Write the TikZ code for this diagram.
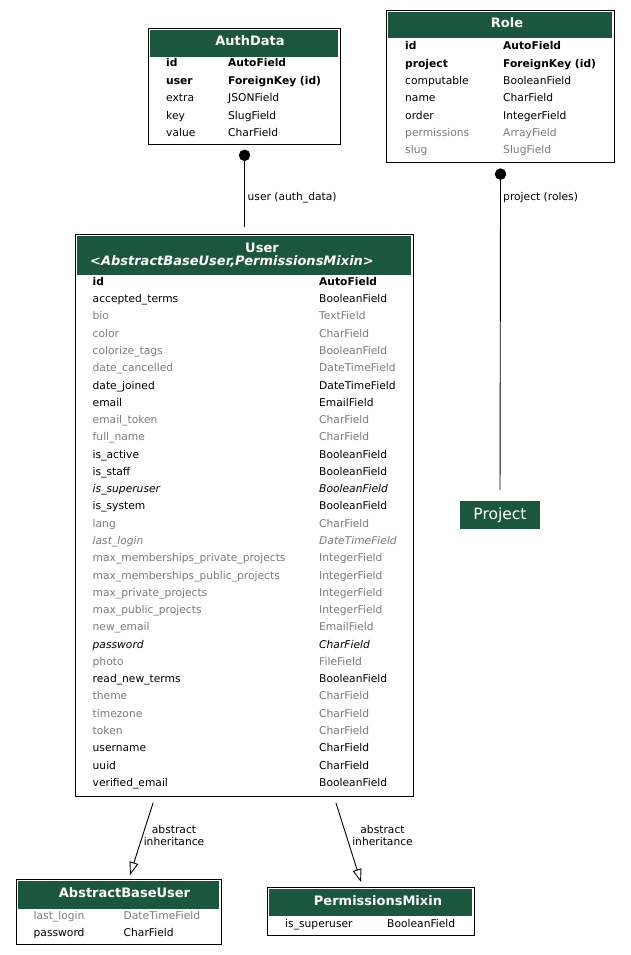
\documentclass[tikz,border=0pt]{standalone}
\usepackage{fontspec}
\setmainfont{DejaVu Sans}
\usetikzlibrary{arrows.meta}

\definecolor{hdrgreen}{HTML}{1B563F}
\definecolor{fieldgray}{HTML}{7B7B7B}
\newcommand{\rowfont}{\fontsize{10.7}{12}\selectfont}
\newcommand{\hdrfont}{\fontsize{13}{14}\selectfont\bfseries}

\tikzset{
	tbl/.style={draw=black, line width=1.1pt, anchor=north west, inner sep=0pt},
	hdr/.style={fill=hdrgreen, anchor=north west, inner sep=0pt},
	title/.style={text=white, font=\hdrfont, inner sep=0pt, text height=9.5pt, text depth=0pt},
	fld/.style={anchor=west, inner sep=0pt, text height=7.8pt, text depth=0pt, font=\rowfont},
	inh/.style={fld, text=fieldgray},
	elabel/.style={font=\rowfont, align=center, inner sep=0pt},
	fk/.style={line width=.9pt, {Circle[length=11.4pt]}-},
	isa/.style={line width=.9pt, -{Triangle[open, length=13pt, width=9pt]}}
}

\begin{document}
\begin{tikzpicture}[x=1pt, y=-1pt]
		\path[use as bounding box, fill=white] (0, 0) rectangle (630, 955);

		\node[tbl, minimum width=192pt, minimum height=116pt] (authdata) at(148, 28){};
			\node[hdr, minimum width=188pt, minimum height=27pt] (authdata-hd) at(150, 30){};
			\node[title] (authdata-title) at(250, 41){AuthData};
			\node[fld, font=\rowfont\bfseries] (authdata-n1) at(166, 63){id};
			\node[fld, font=\rowfont\bfseries] (authdata-t1) at(228, 63){AutoField};
			\node[fld, font=\rowfont\bfseries] (authdata-n2) at(166, 80.4){user};
			\node[fld, font=\rowfont\bfseries] (authdata-t2) at(228, 80.4){ForeignKey (id)};
			\node[fld] (authdata-n3) at(166, 97.8){extra};
			\node[fld] (authdata-t3) at(228, 97.8){JSONField};
			\node[fld] (authdata-n4) at(166, 115.2){key};
			\node[fld] (authdata-t4) at(228, 115.2){SlugField};
			\node[fld] (authdata-n5) at(166, 132.6){value};
			\node[fld] (authdata-t5) at(228, 132.6){CharField};

		\node[tbl, minimum width=228pt, minimum height=152pt] (role) at(386, 10){};
			\node[hdr, minimum width=224pt, minimum height=26pt] (role-hd) at(388, 12){};
			\node[title] (role-title) at(507, 23){Role};
			\node[fld, font=\rowfont\bfseries] (role-n1) at(405, 46){id};
			\node[fld, font=\rowfont\bfseries] (role-t1) at(503, 46){AutoField};
			\node[fld, font=\rowfont\bfseries] (role-n2) at(405, 63.3){project};
			\node[fld, font=\rowfont\bfseries] (role-t2) at(503, 63.3){ForeignKey (id)};
			\node[fld] (role-n3) at(405, 80.6){computable};
			\node[fld] (role-t3) at(503, 80.6){BooleanField};
			\node[fld] (role-n4) at(405, 97.9){name};
			\node[fld] (role-t4) at(503, 97.9){CharField};
			\node[fld] (role-n5) at(405, 115.2){order};
			\node[fld] (role-t5) at(503, 115.2){IntegerField};
			\node[inh] (role-n6) at(405, 132.5){permissions};
			\node[inh] (role-t6) at(503, 132.5){ArrayField};
			\node[inh] (role-n7) at(405, 149.8){slug};
			\node[inh] (role-t7) at(503, 149.8){SlugField};

		\node[tbl, minimum width=338pt, minimum height=562pt] (user) at(75, 234){};
			\node[hdr, minimum width=334pt, minimum height=39pt] (user-hd) at(77, 236){};
			\node[title] (user-title) at(262, 247.5){User};
			\node[title, font=\hdrfont\itshape] (user-bases) at(232, 261){<AbstractBaseUser,PermissionsMixin>};
			\node[fld, font=\rowfont\bfseries] (user-n1) at(92.5, 281.5){id};
			\node[fld, font=\rowfont\bfseries] (user-t1) at(319, 281.5){AutoField};
			\node[fld] (user-n2) at(92.5, 298.8){accepted\_terms};
			\node[fld] (user-t2) at(319, 298.8){BooleanField};
			\node[inh] (user-n3) at(92.5, 316.0){bio};
			\node[inh] (user-t3) at(319, 316.0){TextField};
			\node[inh] (user-n4) at(92.5, 333.3){color};
			\node[inh] (user-t4) at(319, 333.3){CharField};
			\node[inh] (user-n5) at(92.5, 350.6){colorize\_tags};
			\node[inh] (user-t5) at(319, 350.6){BooleanField};
			\node[inh] (user-n6) at(92.5, 367.9){date\_cancelled};
			\node[inh] (user-t6) at(319, 367.9){DateTimeField};
			\node[fld] (user-n7) at(92.5, 385.1){date\_joined};
			\node[fld] (user-t7) at(319, 385.1){DateTimeField};
			\node[fld] (user-n8) at(92.5, 402.4){email};
			\node[fld] (user-t8) at(319, 402.4){EmailField};
			\node[inh] (user-n9) at(92.5, 419.7){email\_token};
			\node[inh] (user-t9) at(319, 419.7){CharField};
			\node[inh] (user-n10) at(92.5, 436.9){full\_name};
			\node[inh] (user-t10) at(319, 436.9){CharField};
			\node[fld] (user-n11) at(92.5, 454.2){is\_active};
			\node[fld] (user-t11) at(319, 454.2){BooleanField};
			\node[fld] (user-n12) at(92.5, 471.5){is\_staff};
			\node[fld] (user-t12) at(319, 471.5){BooleanField};
			\node[fld, font=\rowfont\itshape] (user-n13) at(92.5, 488.7){is\_superuser};
			\node[fld, font=\rowfont\itshape] (user-t13) at(319, 488.7){BooleanField};
			\node[fld] (user-n14) at(92.5, 506.0){is\_system};
			\node[fld] (user-t14) at(319, 506.0){BooleanField};
			\node[inh] (user-n15) at(92.5, 523.3){lang};
			\node[inh] (user-t15) at(319, 523.3){CharField};
			\node[inh, font=\rowfont\itshape] (user-n16) at(92.5, 540.6){last\_login};
			\node[inh, font=\rowfont\itshape] (user-t16) at(319, 540.6){DateTimeField};
			\node[inh] (user-n17) at(92.5, 557.8){max\_memberships\_private\_projects};
			\node[inh] (user-t17) at(319, 557.8){IntegerField};
			\node[inh] (user-n18) at(92.5, 575.1){max\_memberships\_public\_projects};
			\node[inh] (user-t18) at(319, 575.1){IntegerField};
			\node[inh] (user-n19) at(92.5, 592.4){max\_private\_projects};
			\node[inh] (user-t19) at(319, 592.4){IntegerField};
			\node[inh] (user-n20) at(92.5, 609.6){max\_public\_projects};
			\node[inh] (user-t20) at(319, 609.6){IntegerField};
			\node[inh] (user-n21) at(92.5, 626.9){new\_email};
			\node[inh] (user-t21) at(319, 626.9){EmailField};
			\node[fld, font=\rowfont\itshape] (user-n22) at(92.5, 644.2){password};
			\node[fld, font=\rowfont\itshape] (user-t22) at(319, 644.2){CharField};
			\node[inh] (user-n23) at(92.5, 661.4){photo};
			\node[inh] (user-t23) at(319, 661.4){FileField};
			\node[fld] (user-n24) at(92.5, 678.7){read\_new\_terms};
			\node[fld] (user-t24) at(319, 678.7){BooleanField};
			\node[inh] (user-n25) at(92.5, 696.0){theme};
			\node[inh] (user-t25) at(319, 696.0){CharField};
			\node[inh] (user-n26) at(92.5, 713.3){timezone};
			\node[inh] (user-t26) at(319, 713.3){CharField};
			\node[inh] (user-n27) at(92.5, 730.5){token};
			\node[inh] (user-t27) at(319, 730.5){CharField};
			\node[fld] (user-n28) at(92.5, 747.8){username};
			\node[fld] (user-t28) at(319, 747.8){CharField};
			\node[fld] (user-n29) at(92.5, 765.1){uuid};
			\node[fld] (user-t29) at(319, 765.1){CharField};
			\node[fld] (user-n30) at(92.5, 782.3){verified\_email};
			\node[fld] (user-t30) at(319, 782.3){BooleanField};

		\node[tbl, minimum width=205pt, minimum height=65pt] (abu) at(16, 879){};
			\node[hdr, minimum width=201pt, minimum height=28pt] (abu-hd) at(18, 881){};
			\node[title] (abu-title) at(124.5, 892.5){AbstractBaseUser};
			\node[inh] (abu-n1) at(33.5, 915.5){last\_login};
			\node[inh] (abu-t1) at(123.5, 915.5){DateTimeField};
			\node[fld] (abu-n2) at(33.5, 932.5){password};
			\node[fld] (abu-t2) at(123.5, 932.5){CharField};

		\node[tbl, minimum width=207pt, minimum height=48pt] (perms) at(267, 887){};
			\node[hdr, minimum width=203pt, minimum height=27pt] (perms-hd) at(269, 889){};
			\node[title] (perms-title) at(378, 900.5){PermissionsMixin};
			\node[fld] (perms-n1) at(285, 924){is\_superuser};
			\node[fld] (perms-t1) at(387, 924){BooleanField};

		\node[fill=hdrgreen, text=white, font=\fontsize{15.5}{16}\selectfont, minimum width=80pt, minimum height=28pt, inner sep=0pt] (project) at(500, 515){Project};

		\draw[fk, shorten <=4.5pt, shorten >=7pt] (authdata.south) to (user.north);
			\node[fld] (fk-user) at(247.5, 197){user (auth\_data)};
		\draw[fk, shorten <=5.3pt, shorten >=11pt] (role.south) to (project.north);
			\node[fld] (fk-project) at(503, 197){project (roles)};

		\draw[isa] ([xshift=78pt, yshift=-6pt]user.south west) to ([xshift=114pt, yshift=4pt]abu.north west);
			\node[elabel] (isa-abu) at(174, 836){abstract\\inheritance};
		\draw[isa] ([xshift=261pt, yshift=-6pt]user.south west) to ([xshift=94pt, yshift=5pt]perms.north west);
			\node[elabel] (isa-perms) at(382.5, 836){abstract\\inheritance};
	\end{tikzpicture}
\end{document}
